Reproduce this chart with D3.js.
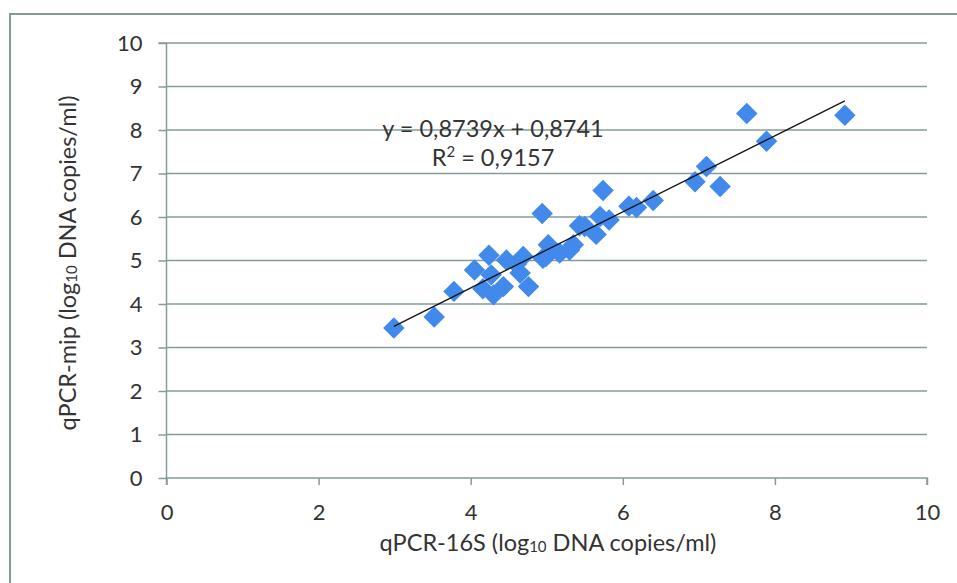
<!DOCTYPE html>
<html><head><meta charset="utf-8">
<script src="https://cdn.jsdelivr.net/npm/d3@7"></script>
<style>
body{margin:0;background:#fff;}
text{font-family:Lato,"Open Sans",sans-serif;fill:#333;}
</style></head><body>
<svg id="c" width="957" height="583"></svg>
<script>
const xValues = [2.99,3.52,3.78,4.05,4.24,4.47,4.69,4.27,4.16,4.30,4.43,4.65,4.76,4.60,5.02,4.99,4.94,4.95,5.17,5.30,5.35,5.43,5.50,5.65,5.70,5.82,5.74,6.08,6.18,6.40,6.95,7.10,7.28,7.63,7.89,8.92];
const yValues = [3.45,3.70,4.29,4.78,5.12,5.01,5.09,4.67,4.35,4.21,4.40,4.71,4.40,4.92,5.36,5.09,6.08,5.05,5.17,5.24,5.36,5.80,5.78,5.60,6.01,5.93,6.61,6.25,6.22,6.38,6.81,7.16,6.70,8.38,7.74,8.34];
const xTicks = [0,2,4,6,8,10];
const yTicks = [0,1,2,3,4,5,6,7,8,9,10];
const slope = 0.8739, intercept = 0.8741;
const eqText = "y = 0,8739x + 0,8741";
const r2Value = "0,9157";

const svg = d3.select("#c");
const grey = "#879a9a";
// outer frame
svg.append("rect").attr("x",10).attr("y",14).attr("width",960).attr("height",600)
  .attr("fill","none").attr("stroke",grey).attr("stroke-width",2);

const x = d3.scaleLinear().domain([0,10]).range([166.5,927]);
const y = d3.scaleLinear().domain([0,10]).range([478,43]);

// gridlines
svg.append("g").selectAll("line").data(yTicks.filter(d=>d>0)).join("line")
  .attr("x1",x(0)).attr("x2",x(10)).attr("y1",d=>y(d)).attr("y2",d=>y(d))
  .attr("stroke",grey).attr("stroke-width",1.3);

// axes
const xAxis = svg.append("g").attr("transform",`translate(0,${y(0)})`)
  .call(d3.axisBottom(x).tickValues(xTicks).tickSize(7).tickPadding(19).tickFormat(d3.format("d")));
const yAxis = svg.append("g").attr("transform",`translate(${x(0)},0)`)
  .call(d3.axisLeft(y).tickValues(yTicks).tickSize(8).tickPadding(16).tickFormat(d3.format("d")));
[xAxis,yAxis].forEach(a=>{
  a.select(".domain").attr("stroke",grey).attr("stroke-width",1.5);
  a.selectAll(".tick line").attr("stroke",grey).attr("stroke-width",1.5);
  a.selectAll(".tick text").attr("font-size",22).attr("fill","#333")
   .attr("font-family","Lato,sans-serif");
});
xAxis.select(".domain").attr("d",`M${x(0)},7V0H${x(10)}V7`);
yAxis.select(".domain").attr("d",`M-8,${y(10)}H0V${y(0)}`);

// points
const pts = xValues.map((v,i)=>[v,yValues[i]]);
const diamond = d3.symbol().type(d3.symbolSquare).size(230);
svg.append("g").selectAll("path").data(pts).join("path")
  .attr("d",diamond())
  .attr("transform",d=>`translate(${x(d[0])},${y(d[1])}) rotate(45)`)
  .attr("fill","#4189ea");

// trendline
const x0 = d3.min(xValues), x1 = d3.max(xValues);
svg.append("line").attr("x1",x(x0)).attr("y1",y(slope*x0+intercept))
  .attr("x2",x(x1)).attr("y2",y(slope*x1+intercept))
  .attr("stroke","#111").attr("stroke-width",1.3);

// equation
svg.append("text").attr("x",493).attr("y",137).attr("text-anchor","middle")
  .attr("font-size",23.5).text(eqText);
const r2 = svg.append("text").attr("x",493).attr("y",166).attr("text-anchor","middle").attr("font-size",23.5);
r2.append("tspan").text("R");
r2.append("tspan").attr("font-size",15).attr("dy",-9).text("2");
r2.append("tspan").attr("dy",9).text(" = " + r2Value);

// x axis title
const xt = svg.append("text").attr("x",548).attr("y",551).attr("text-anchor","middle").attr("font-size",23.5);
xt.append("tspan").text("qPCR-16S (log");
xt.append("tspan").attr("font-size",15).attr("dy",1).text("10");
xt.append("tspan").attr("dy",-1).text(" DNA copies/ml)");

// y axis title
const yt = svg.append("text").attr("transform",`translate(76,263) rotate(-90)`).attr("text-anchor","middle").attr("font-size",23.5);
yt.append("tspan").text("qPCR-mip (log");
yt.append("tspan").attr("font-size",15).attr("dy",1).text("10");
yt.append("tspan").attr("dy",-1).text(" DNA copies/ml)");
</script></body></html>
